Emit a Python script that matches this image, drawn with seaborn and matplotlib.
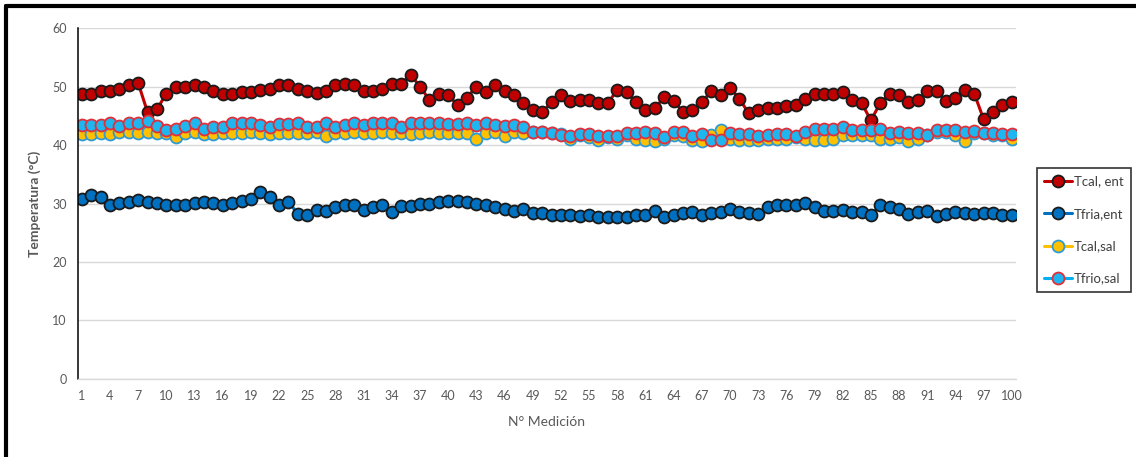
import matplotlib
matplotlib.use("Agg")
import matplotlib.pyplot as plt
import seaborn as sns
import pandas as pd
from matplotlib.lines import Line2D

# ---------------- DATA ----------------
medicion = list(range(1, 101))

tcal_ent = [
    48.8, 48.8, 49.3, 49.3, 49.6, 50.3, 50.6, 45.6, 46.1, 48.8,
    49.9, 50.0, 50.3, 50.0, 49.3, 48.8, 48.8, 49.0, 49.0, 49.4,
    49.6, 50.3, 50.3, 49.6, 49.2, 48.9, 49.3, 50.3, 50.5, 50.3,
    49.2, 49.3, 49.6, 50.5, 50.5, 52.0, 50.0, 47.7, 48.8, 48.6,
    46.8, 48.1, 50.0, 49.0, 50.3, 49.3, 48.6, 47.1, 45.9, 45.6,
    47.3, 48.6, 47.5, 47.7, 47.7, 47.2, 47.2, 49.4, 49.0, 47.3,
    45.9, 46.3, 48.2, 47.6, 45.6, 45.9, 47.3, 49.2, 48.6, 49.8,
    47.9, 45.4, 46.0, 46.4, 46.4, 46.6, 46.8, 47.8, 48.8, 48.8,
    48.8, 49.0, 47.7, 47.2, 44.2, 47.2, 48.8, 48.5, 47.3, 47.7,
    49.2, 49.2, 47.5, 48.1, 49.4, 48.8, 44.4, 45.6, 46.8, 47.3,
]

tfria_ent = [
    30.8, 31.5, 31.1, 29.8, 30.1, 30.2, 30.6, 30.2, 30.1, 29.8,
    29.8, 29.8, 30.1, 30.2, 30.1, 29.8, 30.1, 30.5, 30.8, 31.9,
    31.1, 29.8, 30.3, 28.2, 28.1, 28.9, 28.8, 29.4, 29.8, 29.8,
    28.9, 29.4, 29.7, 28.5, 29.5, 29.5, 29.9, 29.9, 30.2, 30.5,
    30.5, 30.2, 29.9, 29.7, 29.4, 29.1, 28.8, 29.1, 28.4, 28.4,
    28.1, 28.1, 28.1, 27.8, 28.1, 27.7, 27.7, 27.7, 27.7, 28.1,
    28.1, 28.8, 27.7, 28.1, 28.4, 28.5, 28.1, 28.4, 28.5, 29.1,
    28.5, 28.4, 28.2, 29.4, 29.8, 29.8, 29.8, 30.1, 29.4, 28.8,
    28.8, 28.9, 28.5, 28.5, 28.1, 29.7, 29.4, 29.1, 28.2, 28.5,
    28.8, 27.9, 28.2, 28.5, 28.4, 28.2, 28.4, 28.4, 28.0, 28.1,
]

tcal_sal = [
    41.9, 41.9, 42.0, 41.9, 42.3, 42.3, 42.1, 42.2, 42.0, 42.0,
    41.4, 42.0, 42.3, 41.9, 41.9, 42.0, 42.0, 42.1, 42.3, 42.0,
    41.9, 42.0, 42.1, 42.0, 42.1, 42.2, 41.5, 42.0, 42.1, 42.2,
    42.0, 42.1, 42.2, 42.0, 42.1, 41.9, 42.1, 42.2, 42.1, 42.0,
    42.1, 42.0, 41.1, 42.0, 42.3, 41.5, 42.3, 42.1, 42.3, 42.3,
    42.0, 41.9, 41.1, 41.7, 41.3, 40.9, 41.3, 41.1, 41.7, 41.0,
    40.8, 40.6, 41.1, 41.7, 41.5, 40.8, 40.6, 41.7, 42.5, 41.1,
    40.8, 40.8, 40.8, 41.1, 41.1, 41.1, 41.3, 41.0, 40.8, 40.8,
    41.1, 41.7, 41.7, 41.7, 41.7, 41.1, 41.0, 41.4, 40.6, 41.1,
    41.7, 42.3, 42.3, 41.7, 40.6, 42.0, 42.1, 41.7, 41.7, 41.1,
]

tfrio_sal = [
    43.4, 43.4, 43.5, 43.7, 43.3, 43.7, 43.7, 44.1, 43.3, 42.5,
    42.7, 43.3, 43.7, 42.7, 43.1, 43.1, 43.7, 43.7, 43.7, 43.4,
    43.1, 43.6, 43.6, 43.8, 43.1, 43.1, 43.7, 43.1, 43.4, 43.7,
    43.4, 43.8, 43.8, 43.8, 43.1, 43.7, 43.8, 43.8, 43.8, 43.6,
    43.6, 43.7, 43.4, 43.7, 43.4, 43.3, 43.4, 43.1, 42.3, 42.3,
    42.0, 41.7, 41.5, 41.9, 41.9, 41.5, 41.5, 41.5, 42.0, 42.1,
    42.3, 42.1, 41.3, 42.3, 42.3, 41.5, 41.9, 40.8, 40.8, 42.0,
    41.9, 41.9, 41.5, 41.7, 41.9, 41.9, 41.5, 42.3, 42.8, 42.8,
    42.8, 43.1, 42.5, 42.5, 42.5, 42.8, 42.1, 42.3, 42.1, 42.1,
    41.7, 42.5, 42.5, 42.5, 42.3, 42.4, 42.1, 42.0, 41.9, 41.9,
]

x_ticks = list(range(1, 101, 3))

df = pd.DataFrame({
    "Medicion": medicion,
    "Tcal, ent": tcal_ent,
    "Tfria,ent": tfria_ent,
    "Tcal,sal": tcal_sal,
    "Tfrio,sal": tfrio_sal,
})

# ---------------- STYLE ----------------
sns.set_style("white")
plt.rcParams["font.family"] = ["Lato", "DejaVu Sans"]

grey = "#595959"

# name: (line color, marker face, marker edge)
styles = {
    "Tcal, ent": ("#C00000", "#C00000", "#1a1a1a"),
    "Tfria,ent": ("#0070C0", "#0070C0", "#1a1a1a"),
    "Tcal,sal": ("#FFC000", "#FFC000", "#2E9BD6"),
    "Tfrio,sal": ("#00B0F0", "#1FB5EE", "#E0303A"),
}

fig = plt.figure(figsize=(11.36, 4.57), dpi=100)
ax = fig.add_axes([0.0687, 0.1707, 0.8253, 0.768])

for name, (lc, fc, ec) in styles.items():
    sns.lineplot(
        data=df, x="Medicion", y=name, ax=ax,
        color=lc, linewidth=2.2,
        marker="o", markersize=8.6,
        markerfacecolor=fc, markeredgecolor=ec, markeredgewidth=1.3,
    )

ax.set_xlim(0.6, 100.4)
ax.set_ylim(0, 60)
ax.set_yticks(range(0, 61, 10))
ax.set_xticks(x_ticks)
ax.set_xticklabels([str(t) for t in x_ticks])

ax.grid(axis="y", color="#d9d9d9", linewidth=1)
ax.set_axisbelow(True)

for side in ["top", "right"]:
    ax.spines[side].set_visible(False)
ax.spines["left"].set_color("black")
ax.spines["left"].set_linewidth(1.1)
ax.spines["bottom"].set_color("#d9d9d9")
ax.spines["bottom"].set_linewidth(1)

ax.tick_params(axis="both", length=0, labelsize=9, colors=grey, pad=8)

ax.set_xlabel("N° Medición", fontsize=10, color=grey, labelpad=10)
ax.set_ylabel("Temperatura (°C)", fontsize=10, color=grey,
              fontweight="bold", labelpad=8)

# ---------------- LEGEND ----------------
handles = []
for name, (lc, fc, ec) in styles.items():
    handles.append(Line2D([0], [0], color=lc, linewidth=2.2, marker="o",
                          markersize=8.6, markerfacecolor=fc,
                          markeredgecolor=ec, markeredgewidth=1.3))

leg = fig.legend(
    handles, list(styles.keys()),
    loc="upper left", bbox_to_anchor=(1037 / 1136, 1 - 168 / 457),
    frameon=True, fancybox=False, fontsize=9.5, labelcolor="#404040",
    handlelength=2.1, handletextpad=0.15, borderpad=0.55, labelspacing=1.55,
    borderaxespad=0,
)
leg.get_frame().set_edgecolor("black")
leg.get_frame().set_linewidth(1.2)

# ---------------- OUTER FRAME ----------------
fig.add_artist(Line2D([6 / 1136, 1.0], [1 - 6 / 457, 1 - 6 / 457],
                      color="black", linewidth=3, transform=fig.transFigure))
fig.add_artist(Line2D([6 / 1136, 6 / 1136], [0.0, 1 - 6 / 457],
                      color="black", linewidth=3, transform=fig.transFigure))

fig.savefig("out.png", dpi=100)
plt.close(fig)
